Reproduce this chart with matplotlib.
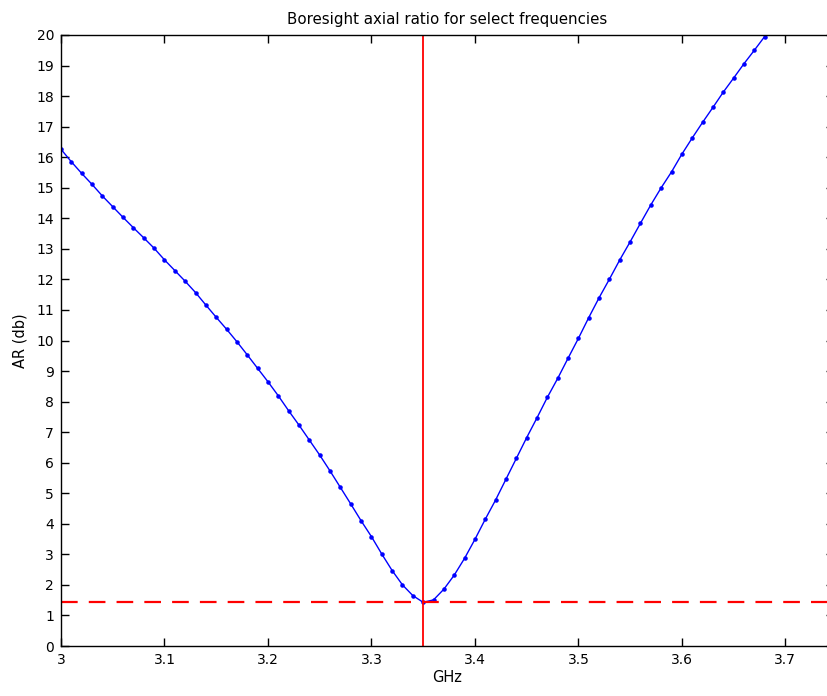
import numpy as np
from matplotlib import pyplot as plt

plt.rcParams['font.family'] = ['DejaVu Sans']

# frequencies in GHz, step 0.01
freq = [3.00, 3.01, 3.02, 3.03, 3.04, 3.05, 3.06, 3.07, 3.08, 3.09,
        3.10, 3.11, 3.12, 3.13, 3.14, 3.15, 3.16, 3.17, 3.18, 3.19,
        3.20, 3.21, 3.22, 3.23, 3.24, 3.25, 3.26, 3.27, 3.28, 3.29,
        3.30, 3.31, 3.32, 3.33, 3.34, 3.35, 3.36, 3.37, 3.38, 3.39,
        3.40, 3.41, 3.42, 3.43, 3.44, 3.45, 3.46, 3.47, 3.48, 3.49,
        3.50, 3.51, 3.52, 3.53, 3.54, 3.55, 3.56, 3.57, 3.58, 3.59,
        3.60, 3.61, 3.62, 3.63, 3.64, 3.65, 3.66, 3.67, 3.68]

# boresight axial ratio (dB)
ar = [16.26, 15.85, 15.47, 15.11, 14.73, 14.38, 14.03, 13.69, 13.36, 13.02,
      12.64, 12.29, 11.94, 11.57, 11.16, 10.76, 10.37, 9.96, 9.53, 9.09,
      8.65, 8.19, 7.70, 7.23, 6.74, 6.25, 5.73, 5.19, 4.65, 4.10,
      3.58, 3.01, 2.47, 2.00, 1.65, 1.43, 1.51, 1.86, 2.32, 2.87,
      3.49, 4.15, 4.78, 5.46, 6.14, 6.82, 7.47, 8.14, 8.76, 9.42,
      10.07, 10.75, 11.40, 12.01, 12.64, 13.23, 13.84, 14.44, 15.00, 15.52,
      16.10, 16.63, 17.14, 17.63, 18.13, 18.59, 19.06, 19.50, 19.95]

xticks = [3, 3.1, 3.2, 3.3, 3.4, 3.5, 3.6, 3.7]
xticklabels = ['3', '3.1', '3.2', '3.3', '3.4', '3.5', '3.6', '3.7']
yticks = list(range(0, 21))

fig = plt.figure(figsize=(8.28, 6.96), dpi=100)
# right edge of the box sits just past the picture, as in the original
ax = fig.add_axes([61 / 828, 50 / 696, 773 / 828, 611 / 696])

ax.plot(freq, ar, color='blue', linewidth=1, marker='.', markersize=4.5)

i_min = int(np.argmin(ar))
ax.axvline(freq[i_min], color='red', linewidth=1.3)
ax.axhline(ar[i_min], color='red', linewidth=1.6, linestyle=(0, (7.5, 5)))

ax.set_xlim(3, 3.747)
ax.set_ylim(0, 20)
ax.set_xticks(xticks)
ax.set_xticklabels(xticklabels)
ax.set_yticks(yticks)
ax.tick_params(direction='in', length=6, width=1, top=True, right=True,
               labelsize=10, colors='black', pad=5)

for s in ax.spines.values():
    s.set_linewidth(1)

ax.set_title('Boresight axial ratio for select frequencies', fontsize=10.8, pad=8)
ax.set_xlabel('GHz', fontsize=10.5, labelpad=2)
ax.set_ylabel('AR (db)', fontsize=10.5, labelpad=6)

fig.savefig('out.png', dpi=100)
